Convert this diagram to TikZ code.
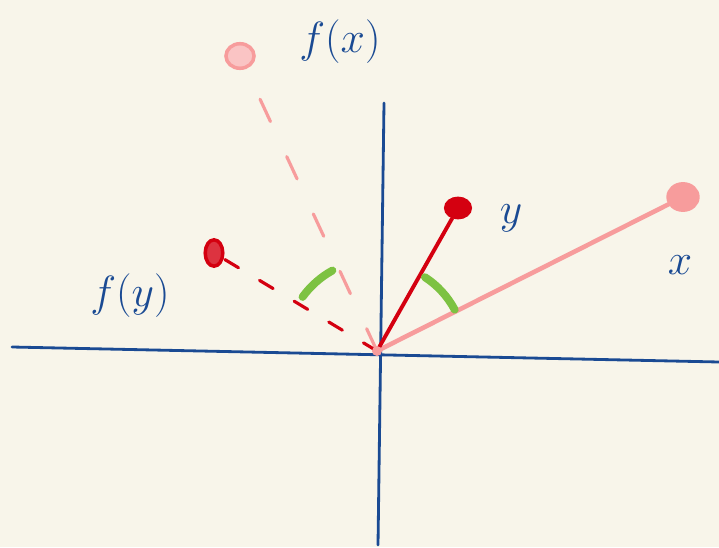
\documentclass[tikz,border=0pt]{standalone}
\usepackage{amsmath}
\usepackage{xcolor}
\usepackage{tikz}

\definecolor{paper}{HTML}{F8F5EA}
\definecolor{inkblue}{HTML}{1A4A93}
\definecolor{inkpink}{HTML}{F79C9C}
\definecolor{inkred}{HTML}{D40010}
\definecolor{inkgreen}{HTML}{7DC242}

\tikzset{
  axis/.style={inkblue, line width=1.6pt, line cap=round},
  blob/.style={ellipse, minimum width=#1, inner sep=0pt, line width=2pt},
  lbl/.style={inkblue, font=\fontsize{30}{36}\selectfont},
  angarc/.style={inkgreen, line width=4.5pt, line cap=round}
}
\usetikzlibrary{shapes.geometric}

\begin{document}
\begin{tikzpicture}[x=0.02cm, y=-0.02cm]
  % Paper
  \fill[paper] (0,0) rectangle (719,547);
  \useasboundingbox (0,0) rectangle (719,547);

  % Axes
  \coordinate (hl) at (12,347);
  \coordinate (hr) at (719,362);
  \coordinate (vt) at (384,103);
  \coordinate (vb) at (378,545);
  \coordinate (O) at (377,351);
  \draw[axis] (hl) -- (hr);
  \draw[axis] (vt) -- (vb);

  % Original vectors x and y
  \node[blob=17pt, minimum height=15pt, fill=inkpink, draw=inkpink] (x) at (683,197) {};
  \node[blob=14pt, minimum height=11pt, fill=inkred, draw=inkred] (y) at (458,208) {};
  \draw[inkpink, line width=2.6pt, line cap=round] (O) -- (x);
  \draw[inkred, line width=2.2pt, line cap=round] (O) -- (y);
  \draw[angarc] (O) ++(-57:88) arc (-57:-28:88);

  % Images f(x) and f(y)
  \node[blob=16pt, minimum height=14pt, draw=inkpink, fill=inkpink!60] (fx) at (240,56) {};
  \node[blob=10pt, minimum height=15pt, draw=inkred, fill=inkred!80] (fy) at (214,253) {};
  \draw[inkpink, line width=1.8pt, dash pattern=on 14pt off 22pt, line cap=round] (O) -- (fx);
  \draw[inkred, line width=1.8pt, dash pattern=on 9pt off 14pt, line cap=round] (O) -- (fy);
  \draw[angarc] (O) ++(-119:92) arc (-119:-144:92);

  % Origin mark
  \fill[inkpink] (O) circle (5);

  % Labels
  \node[lbl] (lx) at (680,265) {$x$};
  \node[lbl] (ly) at (511,218) {$y$};
  \node[lbl] (lfx) at (340,42) {$f(x)$};
  \node[lbl] (lfy) at (130,296) {$f(y)$};
\end{tikzpicture}
\end{document}
